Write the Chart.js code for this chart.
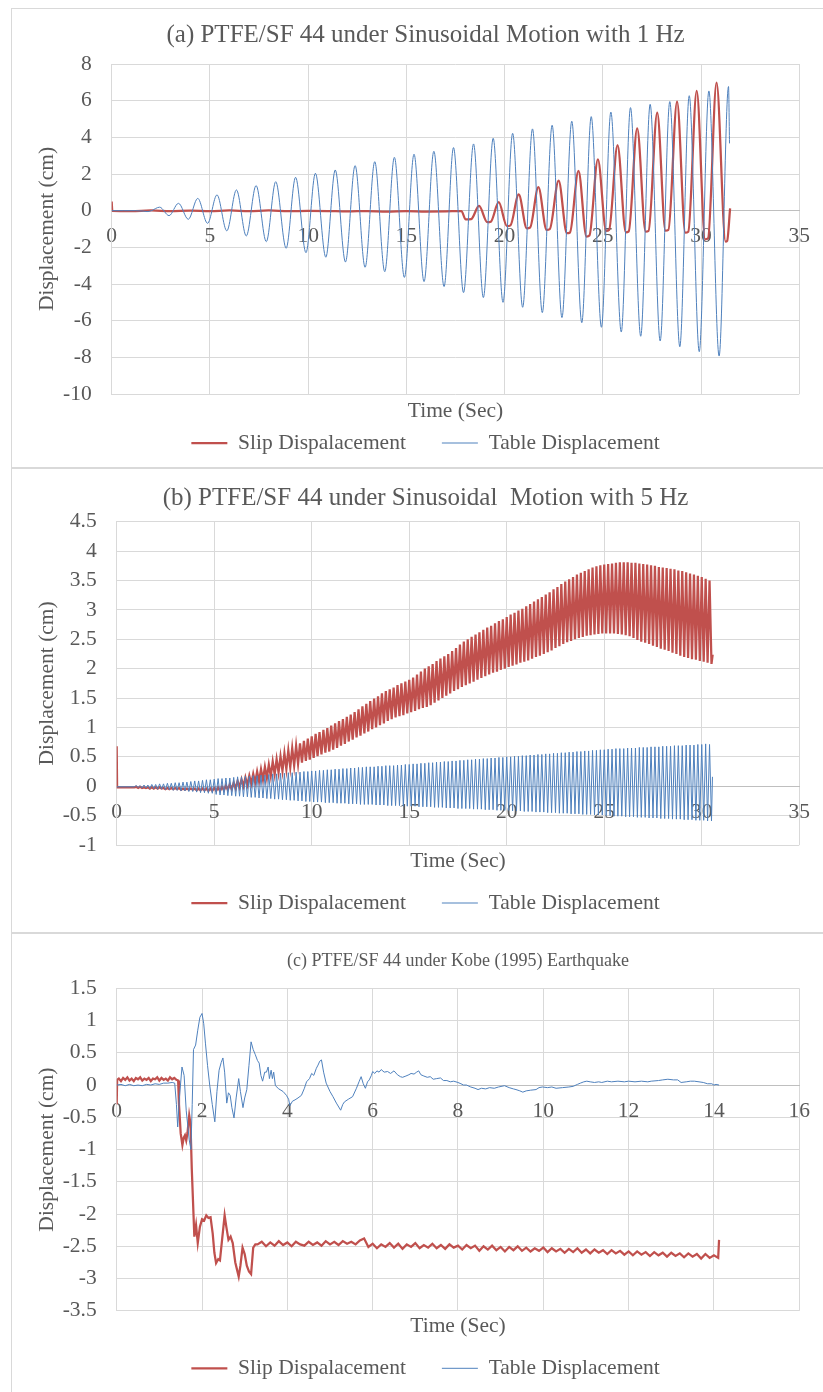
<!DOCTYPE html>
<html><head><meta charset="utf-8">
<script src="https://cdn.jsdelivr.net/npm/chart.js@4.4.1/dist/chart.umd.min.js"></script>
<style>
html,body{margin:0;padding:0;background:#fff;overflow:hidden;width:823px;height:1392px;}
.panel{position:absolute;left:11px;width:820px;border:1px solid #d9d9d9;background:#fff;}
.panel canvas{position:absolute;left:0;top:0;}
</style></head><body>
<div class="panel" style="top:8px;height:458px"><canvas id="ca" width="811" height="458"></canvas></div>
<div class="panel" style="top:468px;height:463px"><canvas id="cb" width="811" height="463"></canvas></div>
<div class="panel" style="top:933px;height:470px"><canvas id="cc" width="811" height="458"></canvas></div>
<script>
// ---------- labels ----------
const seriesNames = ['Slip Dispalacement', 'Table Displacement'];
const titles = [
  '(a) PTFE/SF 44 under Sinusoidal Motion with 1 Hz',
  '(b) PTFE/SF 44 under Sinusoidal  Motion with 5 Hz',
  '(c) PTFE/SF 44 under Kobe (1995) Earthquake'
];
const xTitle = 'Time (Sec)';
const yTitle = 'Displacement (cm)';
// axis ranges [min, max, step]
const xAxisA = [0, 35, 5],  yAxisA = [-10, 8, 2];
const xAxisB = [0, 35, 5],  yAxisB = [-1, 4.5, 0.5];
const xAxisC = [0, 16, 2],  yAxisC = [-3.5, 1.5, 0.5];

// ---------- (a) 1 Hz : turning points ----------
const slipTimeA = [0,0.03,1,2,3,4,5,6,7,8,9,10,11,12,13,14,15,16,17,17.8,
  18.02,18.3,18.7,19.12,19.3,19.7,20.12,20.3,20.72,21.13,21.3,21.72,22.14,22.3,22.75,
  23.17,23.33,23.76,24.17,24.32,24.75,25.17,25.32,25.75,26.17,26.32,26.75,27.18,27.33,27.77,
  28.19,28.34,28.78,29.2,29.35,29.78,30.21,30.36,30.79,31.25,31.33,31.48];
const slipValA = [0.50,-0.01,-0.02,0.01,-0.03,0.00,-0.02,0.01,-0.02,0.01,-0.03,-0.01,-0.02,-0.04,-0.02,-0.05,-0.03,-0.05,-0.04,-0.02,
  -0.48,-0.46,0.26,-0.63,-0.60,0.46,-0.84,-0.80,0.89,-0.96,-0.92,1.28,-1.05,-1.01,1.64,
  -1.23,-1.19,2.17,-1.42,-1.36,2.80,-1.10,-1.05,3.58,-1.18,-1.13,4.49,-1.14,-1.10,5.35,
  -1.09,-1.05,5.95,-1.20,-1.15,6.53,-1.56,-1.50,6.98,-1.69,-1.65,0.13];
const tableTimeA = [0,0.6,1.2,1.6,1.8,2.0,2.44,2.92,3.40,3.90,4.38,4.88,5.36,5.86,6.35,6.85,7.35,7.87,8.35,8.88,
  9.36,9.89,10.37,10.90,11.38,11.90,12.39,12.90,13.39,13.90,14.39,14.90,15.39,15.90,16.40,16.92,17.40,17.91,
  18.42,18.92,19.42,19.92,20.41,20.92,21.42,21.92,22.42,22.92,23.42,23.93,24.41,24.93,25.41,25.94,26.41,26.93,
  27.41,27.92,28.41,28.92,29.40,29.91,30.40,30.92,31.40,31.45];
const tableValA = [0.00,0.00,0.00,-0.02,-0.05,-0.01,0.19,-0.27,0.40,-0.47,0.67,-0.69,0.86,-1.10,1.13,-1.38,1.37,-1.69,1.58,-2.05,
  1.82,-2.29,2.04,-2.54,2.22,-2.80,2.46,-3.09,2.67,-3.33,2.91,-3.64,3.08,-3.87,3.24,-4.14,3.44,-4.47,
  3.64,-4.74,3.95,-5.00,4.22,-5.27,4.46,-5.56,4.66,-5.83,4.88,-6.11,5.13,-6.36,5.38,-6.62,5.62,-6.85,
  5.80,-7.11,5.95,-7.42,6.27,-7.69,6.53,-7.93,6.77,3.67];

// ---------- (b) 5 Hz : per-cycle peaks / troughs, cycles every 0.2 s from 1.0 s ----------
const CYCLE_START_B = 1.0, CYCLE_PERIOD_B = 0.2;
const slipLeadTimeB = [0, 0.02, 0.5, 0.9], slipLeadValB = [0.68, -0.02, -0.02, -0.02];
const tableLeadTimeB = [0, 0.5, 0.9], tableLeadValB = [-0.01, -0.01, -0.01];
const slipUpperB = [
 -0.01,-0.01,-0.02,-0.02,-0.02, -0.02,-0.02,-0.03,-0.03,-0.03, -0.03,-0.03,-0.04,-0.04,-0.04, -0.04,-0.04,-0.04,-0.04,-0.04,
 -0.03,-0.02,-0.01,0.01,0.03, 0.06,0.09,0.12,0.15,0.18, 0.21,0.25,0.29,0.33,0.37, 0.42,0.46,0.51,0.56,0.61,
 0.65,0.69,0.73,0.77,0.81, 0.85,0.89,0.92,0.96,0.99, 1.03,1.07,1.11,1.14,1.18, 1.22,1.26,1.31,1.36,1.40,
 1.45,1.49,1.53,1.58,1.62, 1.65,1.68,1.72,1.75,1.78, 1.81,1.85,1.90,1.95,2.00, 2.04,2.08,2.13,2.17,2.21,
 2.25,2.30,2.35,2.41,2.46, 2.50,2.54,2.58,2.62,2.66, 2.70,2.73,2.77,2.81,2.84, 2.88,2.92,2.95,2.99,3.02,
 3.06,3.10,3.14,3.18,3.22, 3.26,3.30,3.35,3.39,3.44, 3.48,3.52,3.56,3.60,3.63, 3.66,3.69,3.72,3.74,3.76,
 3.77,3.78,3.79,3.80,3.81, 3.81,3.81,3.80,3.80,3.79, 3.78,3.77,3.76,3.75,3.73, 3.72,3.71,3.70,3.69,3.67,
 3.66,3.64,3.62,3.60,3.58, 3.56,3.53,3.50];
const slipLowerB = [
 -0.03,-0.03,-0.03,-0.04,-0.04, -0.04,-0.04,-0.05,-0.05,-0.05, -0.05,-0.06,-0.06,-0.06,-0.06, -0.07,-0.07,-0.07,-0.08,-0.08,
 -0.08,-0.08,-0.07,-0.06,-0.05, -0.04,-0.02,0.00,0.02,0.04, 0.06,0.08,0.11,0.14,0.17, 0.20,0.23,0.26,0.29,0.32,
 0.35,0.38,0.40,0.43,0.45, 0.48,0.51,0.54,0.57,0.59, 0.62,0.65,0.69,0.72,0.76, 0.79,0.83,0.86,0.90,0.93,
 0.97,1.00,1.04,1.07,1.11, 1.14,1.17,1.19,1.21,1.24, 1.26,1.28,1.31,1.33,1.35, 1.38,1.42,1.46,1.50,1.54,
 1.58,1.62,1.65,1.69,1.72, 1.75,1.78,1.81,1.84,1.87, 1.90,1.93,1.95,1.98,2.00, 2.03,2.05,2.07,2.10,2.12,
 2.14,2.17,2.20,2.22,2.25, 2.28,2.31,2.35,2.38,2.42, 2.45,2.47,2.50,2.52,2.54, 2.56,2.57,2.58,2.59,2.60,
 2.60,2.60,2.60,2.59,2.58, 2.57,2.55,2.52,2.49,2.46, 2.44,2.42,2.39,2.37,2.34, 2.32,2.30,2.27,2.25,2.22,
 2.20,2.18,2.16,2.15,2.13, 2.12,2.10,2.08];
const tableUpperB = [
 0.01,0.01,0.02,0.02,0.03, 0.03,0.04,0.04,0.05,0.05, 0.06,0.06,0.07,0.07,0.08, 0.09,0.09,0.10,0.11,0.11,
 0.12,0.13,0.13,0.14,0.14, 0.15,0.16,0.16,0.17,0.17, 0.18,0.18,0.19,0.19,0.20, 0.21,0.21,0.22,0.22,0.23,
 0.23,0.24,0.24,0.25,0.25, 0.26,0.26,0.27,0.27,0.28, 0.28,0.29,0.29,0.30,0.30, 0.31,0.31,0.32,0.32,0.33,
 0.33,0.33,0.34,0.34,0.35, 0.35,0.35,0.36,0.36,0.37, 0.37,0.38,0.38,0.39,0.39, 0.40,0.40,0.41,0.41,0.42,
 0.42,0.43,0.43,0.44,0.44, 0.45,0.45,0.46,0.46,0.47, 0.47,0.48,0.48,0.49,0.49, 0.50,0.50,0.51,0.51,0.52,
 0.52,0.53,0.53,0.54,0.54, 0.55,0.55,0.56,0.56,0.57, 0.57,0.58,0.58,0.59,0.59, 0.60,0.60,0.61,0.61,0.62,
 0.62,0.63,0.63,0.64,0.64, 0.64,0.65,0.65,0.65,0.66, 0.66,0.66,0.67,0.67,0.67, 0.68,0.68,0.68,0.69,0.69,
 0.69,0.70,0.70,0.70,0.71, 0.71,0.72,0.71];
const tableLowerB = [
 -0.02,-0.03,-0.03,-0.04,-0.04, -0.05,-0.05,-0.06,-0.06,-0.07, -0.07,-0.08,-0.08,-0.09,-0.09, -0.10,-0.11,-0.11,-0.12,-0.12,
 -0.14,-0.15,-0.15,-0.16,-0.16, -0.17,-0.17,-0.18,-0.18,-0.19, -0.19,-0.20,-0.20,-0.21,-0.21, -0.22,-0.22,-0.23,-0.23,-0.24,
 -0.24,-0.25,-0.25,-0.26,-0.26, -0.27,-0.27,-0.27,-0.28,-0.28, -0.28,-0.29,-0.29,-0.29,-0.30, -0.30,-0.30,-0.31,-0.31,-0.31,
 -0.31,-0.32,-0.32,-0.32,-0.33, -0.33,-0.33,-0.33,-0.34,-0.34, -0.34,-0.34,-0.35,-0.35,-0.35, -0.35,-0.36,-0.36,-0.36,-0.37,
 -0.37,-0.37,-0.38,-0.38,-0.38, -0.38,-0.39,-0.39,-0.39,-0.40, -0.40,-0.40,-0.41,-0.41,-0.41, -0.41,-0.42,-0.42,-0.42,-0.43,
 -0.43,-0.43,-0.44,-0.44,-0.44, -0.45,-0.45,-0.45,-0.46,-0.46, -0.46,-0.47,-0.47,-0.47,-0.48, -0.48,-0.48,-0.49,-0.49,-0.49,
 -0.50,-0.50,-0.51,-0.51,-0.51, -0.52,-0.52,-0.52,-0.53,-0.53, -0.53,-0.54,-0.54,-0.54,-0.55, -0.55,-0.55,-0.56,-0.56,-0.56,
 -0.57,-0.57,-0.57,-0.58,-0.58, -0.58,-0.59,-0.59];
const slipTailTimeB = [30.56], slipTailValB = [2.24];
const tableTailTimeB = [30.55], tableTailValB = [0.16];

// ---------- (c) Kobe ----------
const slipLeadTimeC = [0, 0.01], slipLeadValC = [-0.30, 0.08];
const SLIP_NOISE1_T0 = 0.05, SLIP_NOISE1_DT = 0.05;
const slipNoise1C = [0.10,0.06,0.11,0.08,0.12,0.07,0.10,0.06,0.11,0.09,0.12,0.07,0.10,0.08,0.11,0.06,0.10,0.09,0.12,0.07,0.11,0.08,0.10,0.07,0.12,0.09,0.11,0.08];
const slipTimeC = [1.44,1.46,1.5,1.54,1.57,1.6,1.63,1.66,1.7,1.73, 1.76,1.8,1.82,1.86,1.9,1.95,2.0,2.05,2.1,2.15,
  2.2,2.25,2.29,2.33,2.38,2.42,2.47,2.53,2.57,2.62, 2.67,2.72,2.78,2.86,2.9,2.95,3.0,3.05,3.1,3.15, 3.2,3.25];
const slipValC = [0.07,-0.30,-0.75,-0.93,-0.82,-0.78,-0.86,-0.74,-0.47,-0.60, -1.30,-2.00,-2.35,-2.17,-2.45,-2.20,-2.08,-2.10,-2.02,-2.06,
  -2.05,-2.30,-2.60,-2.76,-2.70,-2.72,-2.40,-2.02,-2.20,-2.40, -2.35,-2.45,-2.75,-2.97,-2.80,-2.52,-2.62,-2.80,-2.89,-2.93, -2.52,-2.47];
const SLIP_NOISE2_T0 = 3.3, SLIP_NOISE2_DT = 0.1;
const slipNoise2C = [
 -2.47,-2.43,-2.50,-2.44,-2.49,-2.42,-2.48,
 -2.44,-2.50,-2.43,-2.47,-2.49,-2.43,-2.48,-2.44,-2.49,-2.42,
 -2.47,-2.43,-2.48,-2.42,-2.46,-2.43,-2.47,-2.41,-2.38,-2.51,
 -2.46,-2.53,-2.47,-2.51,-2.45,-2.52,-2.46,-2.54,-2.47,-2.51,
 -2.45,-2.53,-2.48,-2.52,-2.46,-2.53,-2.48,-2.54,-2.47,-2.52,
 -2.49,-2.55,-2.48,-2.53,-2.49,-2.57,-2.50,-2.55,-2.49,-2.56,
 -2.51,-2.58,-2.51,-2.56,-2.50,-2.57,-2.52,-2.58,-2.53,-2.57,
 -2.52,-2.59,-2.53,-2.58,-2.54,-2.60,-2.54,-2.59,-2.53,-2.60,
 -2.55,-2.61,-2.55,-2.60,-2.56,-2.62,-2.56,-2.61,-2.57,-2.63,
 -2.58,-2.64,-2.58,-2.63,-2.59,-2.65,-2.59,-2.64,-2.60,-2.66,
 -2.60,-2.65,-2.61,-2.67,-2.61,-2.66,-2.62,-2.69,-2.62,-2.68,
 -2.64,-2.68];
const slipTailTimeC = [14.12], slipTailValC = [-2.40];
const tableTimeC = [0,0.1,0.2,0.3,0.4,0.5,0.6,0.7,0.8,0.9,
 1.0,1.1,1.2,1.3,1.36,1.40,1.43,1.47,1.53,1.58,
 1.63,1.70,1.74,1.77,1.80,1.85,1.90,1.95,2.0,2.04,
 2.08,2.13,2.18,2.24,2.3,2.35,2.4,2.45,2.49,2.53,
 2.58,2.62,2.66,2.70,2.75,2.8,2.86,2.9,2.96,3.0,
 3.05,3.1,3.15,3.2,3.25,3.3,3.34,3.38,3.42,3.47,
 3.51,3.55,3.58,3.62,3.65,3.68,3.72,3.8,3.9,3.98,
 4.03,4.06,4.12,4.18,4.25,4.33,4.4,4.45,4.52,4.57,
 4.62,4.68,4.72,4.76,4.8,4.85,4.91,5.0,5.07,5.15,
 5.25,5.3,5.34,5.43,5.53,5.62,5.68,5.73,5.78,5.83,
 5.88,5.92,5.97,6.0,6.05,6.1,6.15,6.2,6.27,6.35,
 6.42,6.5,6.58,6.65,6.7,6.78,6.85,6.9,6.97,7.03,
 7.08,7.13,7.2,7.28,7.35,7.42,7.5,7.59,7.66,7.74,
 7.82,7.9,8.0,8.07,8.13,8.2,8.3,8.4,8.47,8.55,
 8.65,8.74,8.85,8.95,9.09,9.2,9.3,9.36,9.45,9.52,
 9.6,9.7,9.83,9.9,9.98,10.1,10.2,10.3,10.45,10.6,
 10.7,10.8,10.87,10.95,11.02,11.1,11.2,11.3,11.37,11.5,
 11.6,11.75,11.9,12.0,12.15,12.3,12.45,12.53,12.7,12.8,
 12.92,13.05,13.15,13.23,13.35,13.45,13.54,13.65,13.75,13.85,
 13.95,14.0,14.05,14.12];
const tableValC = [0.00,0.01,-0.01,0.01,-0.01,0.00,-0.01,0.01,0.00,0.02,
 0.01,0.03,0.03,0.04,0.03,-0.30,-0.65,-0.20,0.28,0.15,
 -0.40,-0.85,-1.00,-0.30,0.55,0.62,0.85,1.05,1.11,0.95,
 0.65,0.30,0.00,-0.30,-0.57,-0.10,0.23,0.35,0.42,0.20,
 -0.28,-0.12,-0.16,-0.35,-0.51,-0.20,0.10,-0.10,-0.35,-0.20,
 -0.07,0.30,0.67,0.55,0.47,0.38,0.34,0.15,0.06,0.20,
 0.20,0.28,0.10,0.23,0.10,0.20,-0.01,-0.06,-0.10,-0.16,
 -0.22,-0.32,-0.25,-0.23,-0.20,-0.16,-0.05,0.05,0.10,0.18,
 0.15,0.26,0.31,0.37,0.39,0.20,0.03,-0.10,-0.18,-0.28,
 -0.39,-0.30,-0.26,-0.22,-0.18,-0.05,0.05,0.13,0.02,-0.05,
 0.05,0.08,0.15,0.21,0.18,0.22,0.20,0.24,0.20,0.21,
 0.18,0.22,0.16,0.13,0.12,0.14,0.16,0.18,0.17,0.20,
 0.22,0.16,0.14,0.12,0.13,0.09,0.10,0.11,0.07,0.07,
 0.05,0.06,0.04,0.02,0.00,0.00,-0.03,-0.05,-0.07,-0.05,
 -0.06,-0.04,-0.05,-0.03,-0.01,-0.04,-0.06,-0.07,-0.09,-0.11,
 -0.09,-0.08,-0.07,-0.04,-0.03,-0.04,-0.03,-0.05,-0.04,-0.03,
 -0.02,0.01,0.03,0.05,0.06,0.05,0.04,0.05,0.04,0.06,
 0.05,0.06,0.05,0.06,0.05,0.06,0.05,0.06,0.07,0.08,
 0.09,0.08,0.08,0.04,0.05,0.06,0.06,0.05,0.04,0.02,
 0.02,0.00,0.01,0.00];

// ---------- helpers ----------
function pairs(ts, vs) { const n = Math.min(ts.length, vs.length); const out = []; for (let i = 0; i < n; i++) out.push({x: ts[i], y: vs[i]}); return out; }
function sampled(t0, dt, vs) { return vs.map((v, i) => ({x: +(t0 + i * dt).toFixed(4), y: v})); }
function cycles(t0, dt, up, lo) {
  const n = Math.min(up.length, lo.length), out = [];
  for (let k = 0; k < n; k++) {
    out.push({x: +(t0 + k * dt).toFixed(4), y: up[k]});
    out.push({x: +(t0 + k * dt + dt / 2).toFixed(4), y: lo[k]});
  }
  return out;
}
const fmt = v => String(Number(Number(v).toFixed(2)));

const FONT = "'Times New Roman', 'Liberation Serif', Tinos, serif";
const TXT = '#595959', GRID = '#d9d9d9', ZERO = '#bfbfbf';
const RED = '#C0504D', BLUE = '#4F81BD';
const FS = 21.5;

function build(id, p) {
  const f = {family: FONT, size: FS};
  return new Chart(document.getElementById(id), {
    type: 'line',
    data: { datasets: [
      { label: seriesNames[0], data: p.slip, borderColor: RED, backgroundColor: RED, borderWidth: 2.25,
        pointRadius: 0, fill: false, order: 2, xAxisID: 'x', yAxisID: 'y', tension: 0,
        cubicInterpolationMode: p.smooth ? 'monotone' : 'default' },
      { label: seriesNames[1], data: p.table, borderColor: BLUE, backgroundColor: BLUE, borderWidth: 1,
        pointRadius: 0, fill: false, order: 1, xAxisID: 'x', yAxisID: 'y', tension: 0,
        cubicInterpolationMode: p.smooth ? 'monotone' : 'default' }
    ]},
    options: {
      responsive: false, animation: false, devicePixelRatio: 1, events: [],
      layout: { padding: { left: 16, right: 0, top: 0, bottom: p.padBottom } },
      plugins: {
        title: { display: true, text: p.title, color: TXT, fullSize: p.titleFull,
                 font: {family: FONT, size: p.titleSize, weight: 'normal'},
                 padding: {top: p.titleTop, bottom: p.titleBottom} },
        legend: { position: 'bottom', labels: { color: TXT, font: f, usePointStyle: true, pointStyle: 'line',
                  pointStyleWidth: 36, padding: 36, sort: (a, b) => a.datasetIndex - b.datasetIndex } },
        tooltip: { enabled: false }
      },
      scales: {
        x: { type: 'linear', position: {y: 0}, min: p.xr[0], max: p.xr[1],
             ticks: { stepSize: p.xr[2], color: TXT, font: f, padding: 13, maxRotation: 0, autoSkip: false, callback: fmt },
             grid: { color: GRID, drawTicks: false }, border: { color: ZERO } },
        x2: { type: 'linear', position: 'bottom', min: 0, max: 1,
              grid: {display: false}, ticks: {display: false}, border: {display: false},
              title: { display: true, text: xTitle, color: TXT, font: f, padding: {top: 0, bottom: p.timePad} },
              afterFit: s => { s.height = p.x2Height; } },
        y: { type: 'linear', position: 'left', min: p.yr[0], max: p.yr[1],
             ticks: { stepSize: p.yr[2], color: TXT, font: f, padding: 20, callback: fmt },
             grid: { color: GRID, drawTicks: false }, border: { color: GRID },
             title: { display: true, text: yTitle, color: TXT, font: f, padding: {top: 6, bottom: 0} },
             afterFit: s => { s.width = p.yWidth; } },
        yR: { type: 'linear', position: 'right', grid: {display: false}, ticks: {display: false},
              border: {display: false}, afterFit: s => { s.width = p.rightWidth; } }
      }
    }
  });
}

build('ca', {
  title: titles[0], titleSize: 25, titleFull: true, xr: xAxisA, yr: yAxisA, smooth: true,
  slip: pairs(slipTimeA, slipValA), table: pairs(tableTimeA, tableValA),
  titleTop: 11, titleBottom: 14, padBottom: 3.25, x2Height: 2.25, timePad: -27.65, yWidth: 83.7, rightWidth: 19
});
build('cb', {
  title: titles[1], titleSize: 25, titleFull: true, xr: xAxisB, yr: yAxisB, smooth: false,
  slip: pairs(slipLeadTimeB, slipLeadValB).concat(cycles(CYCLE_START_B, CYCLE_PERIOD_B, slipUpperB, slipLowerB), pairs(slipTailTimeB, slipTailValB)),
  table: pairs(tableLeadTimeB, tableLeadValB).concat(cycles(CYCLE_START_B, CYCLE_PERIOD_B, tableUpperB, tableLowerB), pairs(tableTailTimeB, tableTailValB)),
  titleTop: 14, titleBottom: 8.7, padBottom: 8.25, x2Height: 11.25, timePad: -17.65, yWidth: 88.7, rightWidth: 18.3
});
build('cc', {
  title: titles[2], titleSize: 18, titleFull: false, xr: xAxisC, yr: yAxisC, smooth: false,
  slip: pairs(slipLeadTimeC, slipLeadValC).concat(sampled(SLIP_NOISE1_T0, SLIP_NOISE1_DT, slipNoise1C), pairs(slipTimeC, slipValC), sampled(SLIP_NOISE2_T0, SLIP_NOISE2_DT, slipNoise2C), pairs(slipTailTimeC, slipTailValC)),
  table: pairs(tableTimeC, tableValC),
  titleTop: 16.2, titleBottom: 16.5, padBottom: 2.95, x2Height: 10.75, timePad: -18.05, yWidth: 88.7, rightWidth: 17.3
});
</script>
</body></html>
